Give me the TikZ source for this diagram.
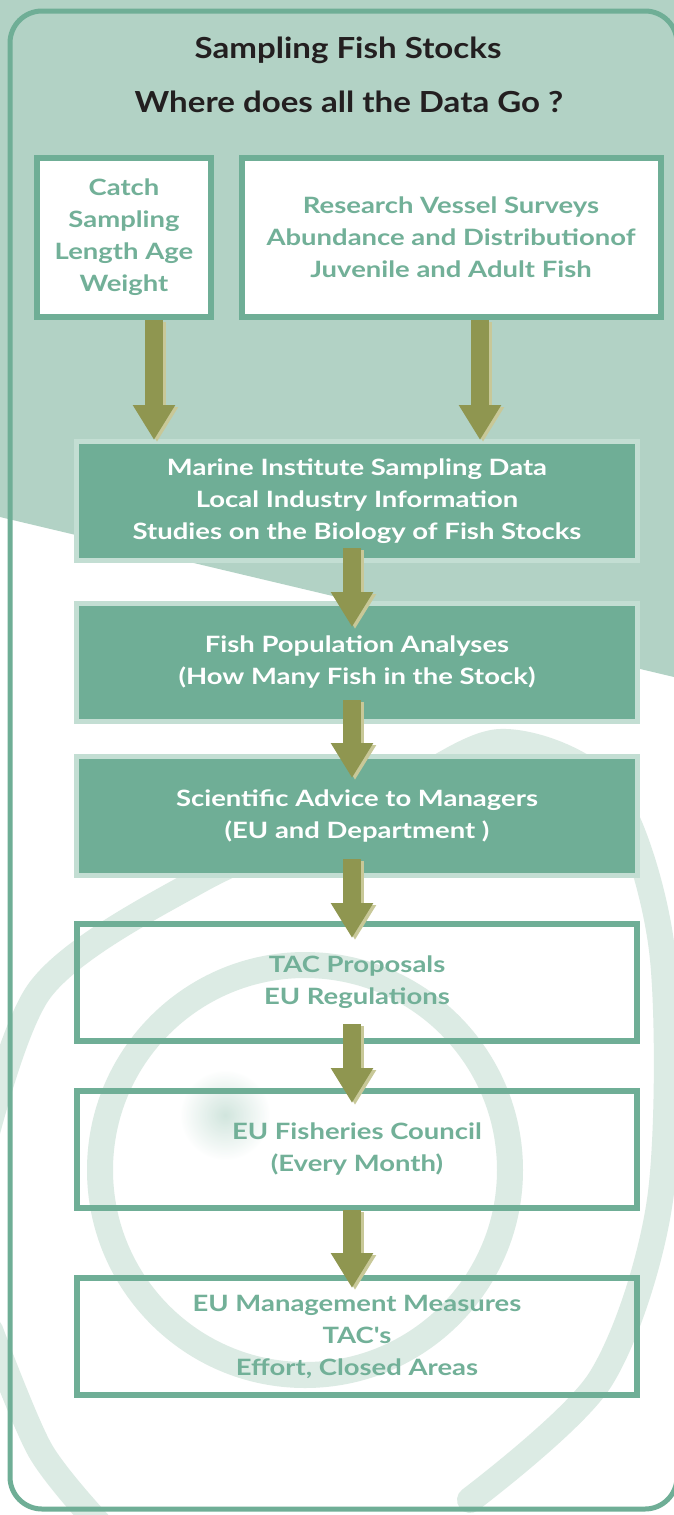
\documentclass[tikz,border=0pt]{standalone}
\usepackage{fontspec}
\setmainfont{Lato}
\newfontfamily\boxfam{Lato}[FakeStretch=1.22]
\newfontfamily\titlefam{Lato}[FakeStretch=1.14]
\usetikzlibrary{arrows.meta,calc}

\definecolor{bggreen}{HTML}{B2D2C5}
\definecolor{fishteal}{HTML}{6FAE96}
\definecolor{paleteal}{HTML}{C3DED3}
\definecolor{swirlgreen}{HTML}{DCEBE4}
\definecolor{fisholive}{HTML}{8F9650}
\definecolor{oliveshade}{HTML}{C8C898}
\definecolor{textdark}{HTML}{231F20}
\definecolor{textgreen}{HTML}{72B098}

\newcommand\boxfont{\boxfam\fontsize{22.5}{32}\selectfont\bfseries}
\newcommand\titlefont{\titlefam\fontsize{29}{30}\selectfont\bfseries}

\tikzset{
  whitebox/.style={draw=fishteal, line width=6pt, fill=white, inner sep=0pt,
    outer sep=0pt, align=center, text=textgreen, font=\boxfont},
  clearbox/.style={whitebox, fill=none},
  tealbox/.style={draw=paleteal, fill=fishteal, line width=5pt, inner sep=0pt,
    outer sep=0pt, align=center, text=white, font=\boxfont},
  flowarrow/.style={draw=fisholive, line width=18pt,
    -{Triangle[width=40pt,length=35pt]}},
  flowshade/.style={flowarrow, draw=oliveshade, fill=oliveshade},
  swirl/.style={draw=swirlgreen, line width=26pt, line cap=round},
}

\begin{document}
\begin{tikzpicture}[x=1pt, y=-1pt]
  \useasboundingbox (0,0) rectangle (674,1515);
  % Background
  \fill[white] (0,0) rectangle (674,1515);
  \fill[bggreen] (0,0) -- (674,0) -- (674,677) -- (0,517) -- cycle;
  \begin{scope}
    \clip (0,520) -- (674,680) -- (674,1515) -- (0,1515) -- cycle;
    \draw[swirl] (305,1170) circle (205);
    \draw[swirl] plot[smooth] coordinates {(-25,1180) (40,990) (200,880)
      (380,800) (500,742) (610,790) (662,950) (660,1200) (600,1380) (470,1500)};
    \draw[swirl] plot[smooth] coordinates {(-10,1330) (40,1450) (100,1525)};
    \shade[inner color=fishteal!45, outer color=white, opacity=0.7]
      (225,1115) circle (45);
  \end{scope}
  \draw[fishteal, line width=5pt, rounded corners=32pt] (10,11) rectangle (677,1509);

  % Titles
  \node[font=\titlefont, text=textdark] (title) at (348,50) {Sampling Fish Stocks};
  \node[font=\titlefont, text=textdark] (subtitle) at (349,102) {Where does all the Data Go ?};

  % Boxes
  \node[whitebox, minimum width=174pt, minimum height=159pt] (catch) at (124,237.5)
    {Catch\\Sampling\\Length Age\\Weight};
  \node[whitebox, minimum width=419pt, minimum height=159pt] (research) at (451,237.5)
    {Research Vessel Surveys\\Abundance and Distributionof\\Juvenile and Adult Fish};
  \node[tealbox, minimum width=561pt, minimum height=119pt] (marine) at (357,501)
    {Marine Institute Sampling Data\\Local Industry Information\\Studies on the Biology of Fish Stocks};
  \node[tealbox, minimum width=561pt, minimum height=118pt] (fish) at (357,662.5)
    {Fish Population Analyses\\(How Many Fish in the Stock)};
  \node[tealbox, minimum width=561pt, minimum height=119pt] (advice) at (357,816)
    {Scientific Advice to Managers\\(EU and Department )};
  \node[clearbox, minimum width=560pt, minimum height=117pt] (tac) at (357,982.5)
    {TAC Proposals\\EU Regulations};
  \node[clearbox, minimum width=560pt, minimum height=117pt] (council) at (357,1149.5)
    {EU Fisheries Council\\(Every Month)};
  \node[clearbox, minimum width=560pt, minimum height=117pt] (measures) at (357,1336.5)
    {EU Management Measures\\TAC's\\Effort, Closed Areas};

  % Arrows
  \foreach \a/\b/\x/\s/\t in {catch/marine/154/-3/-1.5, research/marine/480/-3/-1.5,
      marine/fish/352/12.5/23.5, fish/advice/352/21.5/21.5, advice/tac/352/16.5/14,
      tac/council/352/17/12, council/measures/352/-2/10}{
    \draw[flowshade] ($(\a.south -| \x,0)+(3,{2-(\s)})$) -- ($(\b.north -| \x,0)+(3,{2+\t})$);
    \draw[flowarrow] ($(\a.south -| \x,0)+(0,{-(\s)})$) -- ($(\b.north -| \x,0)+(0,\t)$);
  }
\end{tikzpicture}
\end{document}
